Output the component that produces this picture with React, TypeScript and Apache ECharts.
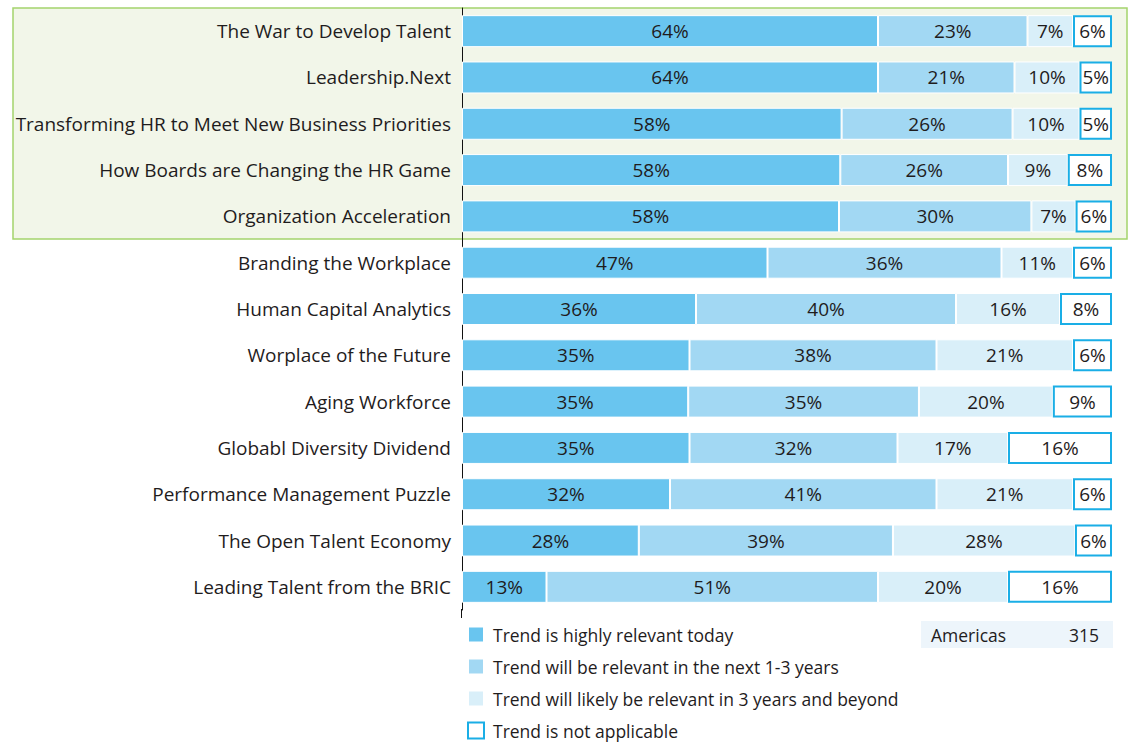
import React, { useEffect, useRef } from "react";
import * as echarts from "echarts";

const categories = [
  "The War to Develop Talent",
  "Leadership.Next",
  "Transforming HR to Meet New Business Priorities",
  "How Boards are Changing the HR Game",
  "Organization Acceleration",
  "Branding the Workplace",
  "Human Capital Analytics",
  "Worplace of the Future",
  "Aging Workforce",
  "Globabl Diversity Dividend",
  "Performance Management Puzzle",
  "The Open Talent Economy",
  "Leading Talent from the BRIC",
];

const seriesNames = [
  "Trend is highly relevant today",
  "Trend will be relevant in the next 1-3 years",
  "Trend will likely be relevant in 3 years and beyond",
  "Trend is not applicable",
];

// printed (rounded) percentages
const todayPct = [64, 64, 58, 58, 58, 47, 36, 35, 35, 35, 32, 28, 13];
const nextPct = [23, 21, 26, 26, 30, 36, 40, 38, 35, 32, 41, 39, 51];
const laterPct = [7, 10, 10, 9, 7, 11, 16, 21, 20, 17, 21, 28, 20];
const naPct = [6, 5, 5, 8, 6, 6, 8, 6, 9, 16, 6, 6, 16];

// bar shares as drawn (unrounded)
const todayShare = [64, 64, 58.4, 58.2, 58.0, 47, 36, 35, 34.8, 35, 32, 27.2, 13];
const nextShare = [23, 21, 26.3, 25.8, 29.6, 36, 40, 38, 35.5, 32, 41, 39.1, 51];
const laterShare = [7, 10, 10.3, 9.2, 6.8, 11, 16, 21, 20.6, 17, 21, 28.0, 20];
const naShare = [6, 5, 5, 6.8, 5.6, 6, 8, 6, 9.1, 16, 6, 5.7, 16];

const regionName = "Americas";
const regionCount = "315";

const FONT = "'Open Sans', 'Noto Sans', sans-serif";
const TEXT = "#1f1c1d";

export default function App() {
  const ref = useRef<HTMLDivElement>(null);

  useEffect(() => {
    if (!ref.current) return;
    const chart = echarts.init(ref.current, undefined, { renderer: "svg" });

    const colors = ["#69c5ef", "#a2d8f3", "#d9eff9", "#ffffff"];
    const shares = [todayShare, nextShare, laterShare, naShare];
    const pcts = [todayPct, nextPct, laterPct, naPct];

    const series = seriesNames.map((name, i) => ({
      name,
      type: "bar",
      stack: "total",
      barWidth: 32,
      data: shares[i],
      itemStyle:
        i === 3
          ? { color: "#ffffff", borderColor: "#1aaee6", borderWidth: 2 }
          : { color: colors[i], borderColor: "#ffffff", borderWidth: 1 },
      label: {
        show: true,
        position: "inside",
        color: TEXT,
        fontFamily: FONT,
        fontSize: 19,
        formatter: (p: any) => pcts[i][p.dataIndex] + "%",
      },
      emphasis: { disabled: true },
    }));

    chart.setOption({
      animation: false,
      grid: { left: 462, top: 8, width: 650, height: 602, containLabel: false },
      xAxis: { type: "value", min: 0, max: 100, show: false },
      yAxis: {
        type: "category",
        inverse: true,
        data: categories,
        axisLine: { show: true, lineStyle: { color: "#111", width: 1 } },
        axisTick: { show: false },
        axisLabel: {
          margin: 11,
          color: TEXT,
          fontFamily: FONT,
          fontSize: 19,
        },
      },
      legend: {
        orient: "vertical",
        left: 467,
        top: 625,
        height: 140,
        padding: 0,
        itemWidth: 16,
        itemHeight: 16,
        itemGap: 13,
        icon: "rect",
        selectedMode: false,
        data: seriesNames,
        textStyle: {
          color: TEXT,
          fontFamily: FONT,
          fontSize: 17.5,
          lineHeight: 19,
          padding: [0, 0, 0, 4],
        },
      },
      graphic: [
        {
          type: "rect",
          z: -10,
          silent: true,
          shape: { x: 13, y: 8, width: 1114, height: 231 },
          style: { fill: "#f2f6e9", stroke: "#a4d46c", lineWidth: 1.5 },
        },
        {
          type: "line",
          silent: true,
          shape: { x1: 461.5, y1: 609, x2: 461.5, y2: 618 },
          style: { stroke: "#111", lineWidth: 1 },
        },
        {
          type: "rect",
          silent: true,
          shape: { x: 921, y: 621, width: 192, height: 27 },
          style: { fill: "#edf5fb" },
        },
        {
          type: "text",
          silent: true,
          x: 931,
          y: 634.5,
          style: {
            text: regionName,
            fill: TEXT,
            font: `17.5px ${FONT}`,
            align: "left",
            verticalAlign: "middle",
          },
        },
        {
          type: "text",
          silent: true,
          x: 1099,
          y: 634.5,
          style: {
            text: regionCount,
            fill: TEXT,
            font: `17.5px ${FONT}`,
            align: "right",
            verticalAlign: "middle",
          },
        },
      ],
      series,
    });

    return () => chart.dispose();
  }, []);

  return (
    <div
      ref={ref}
      style={{ position: "absolute", left: 0, top: 0, width: 1131, height: 742 }}
    />
  );
}
